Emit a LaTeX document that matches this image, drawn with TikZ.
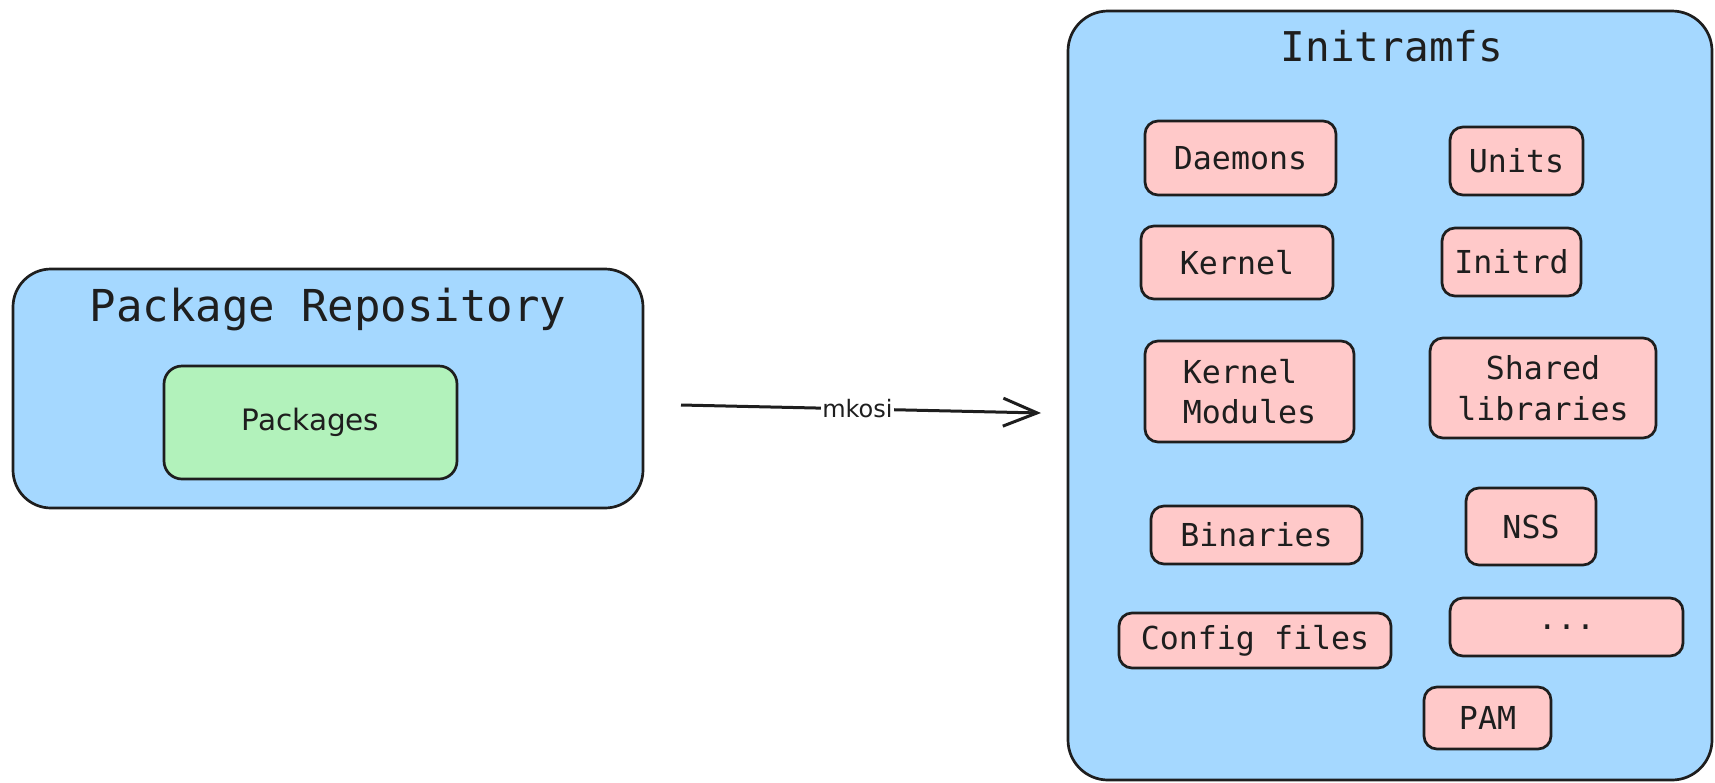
\documentclass[tikz,border=0pt]{standalone}
\usepackage{fontspec}
\setmonofont{DejaVu Sans Mono}
\newfontfamily\handfont{DejaVu Sans}
\usetikzlibrary{arrows.meta}

\definecolor{boxblue}{HTML}{A5D8FF}
\definecolor{boxpink}{HTML}{FFC9C9}
\definecolor{boxgreen}{HTML}{B2F2BB}
\definecolor{ink}{HTML}{1E1E1E}

\tikzset{
  group/.style={draw=ink, fill=boxblue, line width=2.7pt, rounded corners=38pt, inner sep=0pt},
  item/.style={draw=ink, fill=boxpink, line width=2.7pt, rounded corners=13pt, inner sep=0pt,
    text=ink, font=\ttfamily\fontsize{31.6}{40.5}\selectfont},
  pkg/.style={draw=ink, fill=boxgreen, line width=2.7pt, rounded corners=18pt, inner sep=0pt,
    text=ink, font=\handfont\fontsize{29.5}{35}\selectfont},
  heading/.style={text=ink, font=\ttfamily\fontsize{44}{53}\selectfont},
  flow/.style={draw=ink, line width=3pt, -{Straight Barb[length=34pt,width=28pt,line width=3pt]}},
}

\begin{document}
\begin{tikzpicture}[x=1pt, y=-1pt]
		\useasboundingbox (0,0) rectangle (1715,782);

		% Define nodes
		\node[group, minimum width=630pt, minimum height=239pt] (repo) at (328,388.5) {};
		\node[heading] (repotitle) at (328,310) {Package Repository};
		\node[pkg, minimum width=293pt, minimum height=113pt] (pkgs) at (310.5,422.5) {Packages};

		\node[group, rounded corners=40pt, minimum width=644pt, minimum height=769pt] (initramfs) at (1390,395.5) {};
		\node[heading, font=\ttfamily\fontsize{41}{49}\selectfont] (inittitle) at (1392,46) {Initramfs};

		\node[item, minimum width=191pt, minimum height=74pt] (daemons) at (1240.5,158) {Daemons};
		\node[item, minimum width=133pt, minimum height=68pt] (units) at (1516.5,161) {Units};
		\node[item, minimum width=192pt, minimum height=73pt] (kernel) at (1237,262.5) {Kernel};
		\node[item, minimum width=139pt, minimum height=68pt] (initrd) at (1511.5,262) {Initrd};
		\node[item, minimum width=209pt, minimum height=101pt, align=left] (kmod) at (1249.5,391.5) {Kernel\\Modules};
		\node[item, minimum width=226pt, minimum height=100pt, align=center] (shlib) at (1543,388) {Shared\\libraries};
		\node[item, minimum width=211pt, minimum height=58pt] (binaries) at (1256.5,535) {Binaries};
		\node[item, minimum width=130pt, minimum height=77pt] (nss) at (1531,526.5) {NSS};
		\node[item, minimum width=272pt, minimum height=55pt] (config) at (1255,640.5) {Config files};
		\node[item, minimum width=233pt, minimum height=58pt] (dots) at (1566.5,627) {...};
		\node[item, minimum width=127pt, minimum height=62pt] (pam) at (1487.5,718) {PAM};

		\coordinate (src) at (681,405);
		\coordinate (dst) at (1041,413);

		% Connect the nodes
		\draw[flow] (src) -- node[pos=0.49, fill=white, inner sep=1pt, text=ink,
			font=\handfont\fontsize{24}{28}\selectfont] (mkosi) {mkosi} (dst);
	\end{tikzpicture}
\end{document}
